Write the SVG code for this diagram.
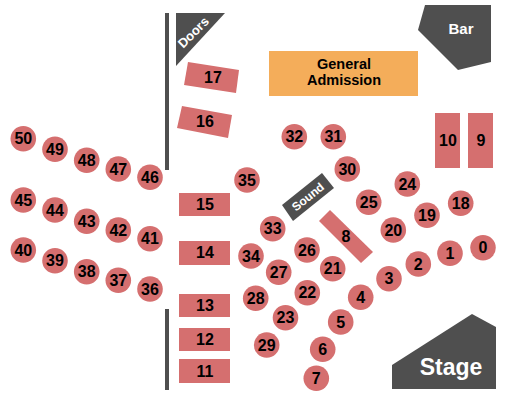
<svg xmlns="http://www.w3.org/2000/svg" width="525" height="420" viewBox="0 0 525 420">
<style>
.s{fill:#d56f6f}
.d{fill:#4f4f4f}
text{font-family:"Liberation Sans",Arial,sans-serif;font-weight:bold;text-anchor:middle}
.n{font-size:16px;fill:#000}
.w{fill:#fff}
</style>
<rect width="525" height="420" fill="#fff"/>
<g id="walls"><rect class="d" x="165" y="13" width="4" height="157"/><rect class="d" x="165" y="309" width="4" height="81"/></g>
<g id="doors"><polygon class="d" points="176,13 225,13 176,66"/><text class="w" font-size="13" transform="translate(196.5,35.5) rotate(-45)">Doors</text></g>
<g id="bar"><polygon class="d" points="425,5 491,5 491,62 458,70 418,30"/><text class="w" font-size="15" x="461" y="34">Bar</text></g>
<g id="stage"><polygon class="d" points="392,365 472,314 496,327 496,389 392,389"/><text class="w" font-size="23" x="451" y="375">Stage</text></g>
<g id="ga"><rect x="269" y="51" width="149" height="45" fill="#f4ad5a"/><text font-size="14.5" x="344" y="69">General</text><text font-size="14.5" x="344" y="85">Admission</text></g>
<g id="sound"><polygon class="d" points="282,205 322,173 334,188 293,221"/><text class="w" font-size="12" transform="translate(308,197) rotate(-39)" y="4">Sound</text></g>
<g id="s17"><polygon class="s" points="188,62 239,70 236,93 184,85"/><text class="n" x="213" y="83">17</text></g>
<g id="s16"><polygon class="s" points="182,106 232,115 228,138 177,128"/><text class="n" x="205" y="127">16</text></g>
<g id="s15"><rect class="s" x="179" y="193" width="51" height="23"/><text class="n" x="205" y="210">15</text></g>
<g id="s14"><rect class="s" x="179" y="241" width="51" height="24"/><text class="n" x="205" y="258">14</text></g>
<g id="s13"><rect class="s" x="179" y="294" width="51" height="23"/><text class="n" x="205" y="311">13</text></g>
<g id="s12"><rect class="s" x="179" y="328" width="51" height="23"/><text class="n" x="205" y="345">12</text></g>
<g id="s11"><rect class="s" x="179" y="359" width="51" height="24"/><text class="n" x="205" y="377">11</text></g>
<g id="s10"><rect class="s" x="435" y="113" width="25" height="55"/><text class="n" x="448" y="146">10</text></g>
<g id="s9"><rect class="s" x="468" y="113" width="25" height="55"/><text class="n" x="481" y="146">9</text></g>
<g id="s8"><polygon class="s" points="330,210 373,252 361,263 319,221"/><text class="n" x="346" y="242">8</text></g>
<g id="c0"><circle class="s" cx="483" cy="247.7" r="12.8"/><text class="n" x="483" y="253.4">0</text></g>
<g id="c1"><circle class="s" cx="450" cy="253.3" r="12.8"/><text class="n" x="450" y="259">1</text></g>
<g id="c2"><circle class="s" cx="418.3" cy="264" r="12.8"/><text class="n" x="418.3" y="269.7">2</text></g>
<g id="c3"><circle class="s" cx="389" cy="278.7" r="12.8"/><text class="n" x="389" y="284.4">3</text></g>
<g id="c4"><circle class="s" cx="360.7" cy="297.3" r="12.8"/><text class="n" x="360.7" y="303">4</text></g>
<g id="c5"><circle class="s" cx="340.7" cy="322" r="12.8"/><text class="n" x="340.7" y="327.7">5</text></g>
<g id="c6"><circle class="s" cx="322.7" cy="349.3" r="12.8"/><text class="n" x="322.7" y="355">6</text></g>
<g id="c7"><circle class="s" cx="316.3" cy="378.3" r="12.8"/><text class="n" x="316.3" y="384">7</text></g>
<g id="c18"><circle class="s" cx="460.7" cy="203.3" r="12.8"/><text class="n" x="460.7" y="209">18</text></g>
<g id="c19"><circle class="s" cx="427" cy="215.3" r="12.8"/><text class="n" x="427" y="221">19</text></g>
<g id="c20"><circle class="s" cx="393.3" cy="230" r="12.8"/><text class="n" x="393.3" y="235.7">20</text></g>
<g id="c21"><circle class="s" cx="332.7" cy="268.7" r="12.8"/><text class="n" x="332.7" y="274.4">21</text></g>
<g id="c22"><circle class="s" cx="307.3" cy="292.7" r="12.8"/><text class="n" x="307.3" y="298.4">22</text></g>
<g id="c23"><circle class="s" cx="285.5" cy="317.7" r="12.8"/><text class="n" x="285.5" y="323.4">23</text></g>
<g id="c24"><circle class="s" cx="407.3" cy="184" r="12.8"/><text class="n" x="407.3" y="189.7">24</text></g>
<g id="c25"><circle class="s" cx="368.7" cy="202.3" r="12.8"/><text class="n" x="368.7" y="208">25</text></g>
<g id="c26"><circle class="s" cx="307" cy="250" r="12.8"/><text class="n" x="307" y="255.7">26</text></g>
<g id="c27"><circle class="s" cx="278.7" cy="272.3" r="12.8"/><text class="n" x="278.7" y="278">27</text></g>
<g id="c28"><circle class="s" cx="255.7" cy="298.3" r="12.8"/><text class="n" x="255.7" y="304">28</text></g>
<g id="c29"><circle class="s" cx="266.7" cy="345" r="12.8"/><text class="n" x="266.7" y="350.7">29</text></g>
<g id="c30"><circle class="s" cx="347.3" cy="169" r="12.8"/><text class="n" x="347.3" y="174.7">30</text></g>
<g id="c31"><circle class="s" cx="333.3" cy="136.7" r="12.8"/><text class="n" x="333.3" y="142.4">31</text></g>
<g id="c32"><circle class="s" cx="294.3" cy="136.7" r="12.8"/><text class="n" x="294.3" y="142.4">32</text></g>
<g id="c33"><circle class="s" cx="272.7" cy="228.7" r="12.8"/><text class="n" x="272.7" y="234.4">33</text></g>
<g id="c34"><circle class="s" cx="251" cy="256" r="12.8"/><text class="n" x="251" y="261.7">34</text></g>
<g id="c35"><circle class="s" cx="247" cy="180" r="12.8"/><text class="n" x="247" y="185.7">35</text></g>
<g id="c36"><circle class="s" cx="150" cy="289" r="12.8"/><text class="n" x="150" y="294.7">36</text></g>
<g id="c37"><circle class="s" cx="118.3" cy="280.3" r="12.8"/><text class="n" x="118.3" y="286">37</text></g>
<g id="c38"><circle class="s" cx="86.7" cy="271.7" r="12.8"/><text class="n" x="86.7" y="277.4">38</text></g>
<g id="c39"><circle class="s" cx="55" cy="260.7" r="12.8"/><text class="n" x="55" y="266.4">39</text></g>
<g id="c40"><circle class="s" cx="23.3" cy="250" r="12.8"/><text class="n" x="23.3" y="255.7">40</text></g>
<g id="c41"><circle class="s" cx="150" cy="238.7" r="12.8"/><text class="n" x="150" y="244.4">41</text></g>
<g id="c42"><circle class="s" cx="118.3" cy="230" r="12.8"/><text class="n" x="118.3" y="235.7">42</text></g>
<g id="c43"><circle class="s" cx="86.7" cy="221.3" r="12.8"/><text class="n" x="86.7" y="227">43</text></g>
<g id="c44"><circle class="s" cx="55" cy="210" r="12.8"/><text class="n" x="55" y="215.7">44</text></g>
<g id="c45"><circle class="s" cx="23.3" cy="200" r="12.8"/><text class="n" x="23.3" y="205.7">45</text></g>
<g id="c46"><circle class="s" cx="150" cy="177.3" r="12.8"/><text class="n" x="150" y="183">46</text></g>
<g id="c47"><circle class="s" cx="118.3" cy="169" r="12.8"/><text class="n" x="118.3" y="174.7">47</text></g>
<g id="c48"><circle class="s" cx="86.7" cy="160.3" r="12.8"/><text class="n" x="86.7" y="166">48</text></g>
<g id="c49"><circle class="s" cx="55" cy="149.3" r="12.8"/><text class="n" x="55" y="155">49</text></g>
<g id="c50"><circle class="s" cx="23.3" cy="138.7" r="12.8"/><text class="n" x="23.3" y="144.4">50</text></g>
<g id="connectors"></g>
</svg>
